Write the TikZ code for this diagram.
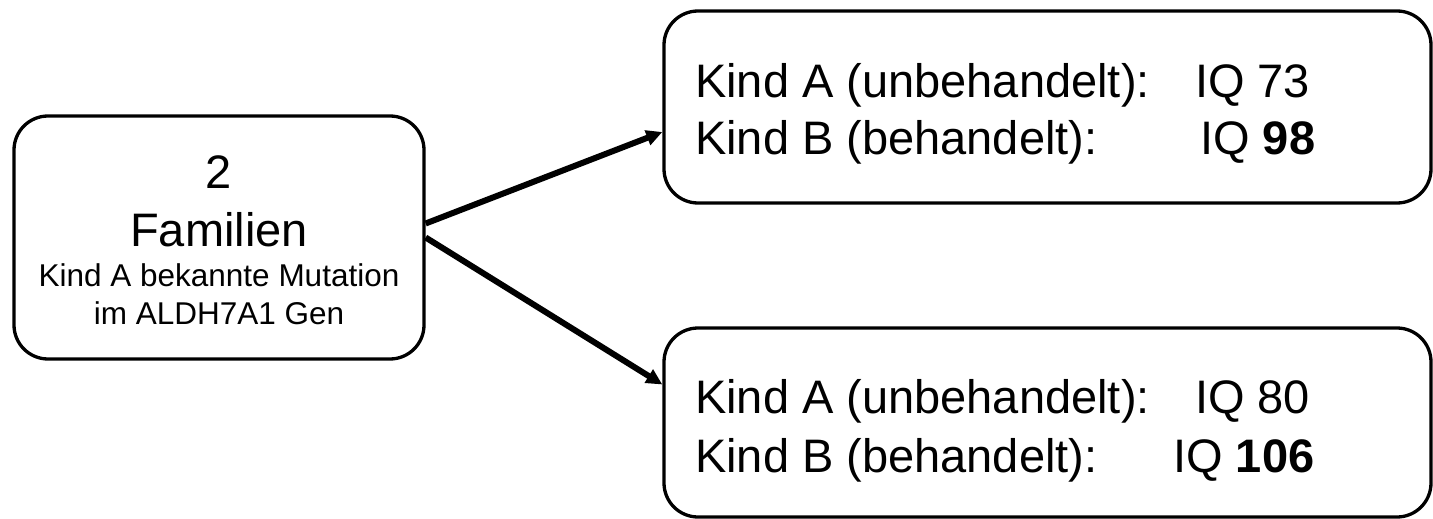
\documentclass[tikz,border=0pt]{standalone}
\usepackage{fontspec}
\setmainfont{Liberation Sans}
\usetikzlibrary{arrows.meta}
\begin{document}
\begin{tikzpicture}[x=1pt,y=-1pt,
  box/.style={draw, line width=3.3pt, rounded corners=34pt, inner sep=0pt},
  bigtext/.style={font=\fontsize{47}{57}\selectfont, inner sep=0pt, anchor=base west},
  link/.style={line width=6pt, -{Triangle[length=16pt,width=15pt]}}]
\useasboundingbox (0,0) rectangle (1433,519);

% family box on the left
\node[box, minimum width=410pt, minimum height=243pt] (fam) at (219,237.5) {};
\node[inner sep=0pt, anchor=north, align=center, font=\fontsize{31.5}{38}\selectfont] (famtxt) at (219,155.5)
  {{\fontsize{47}{57}\selectfont 2}\\[20pt]{\fontsize{47}{57}\selectfont Familien}\\[2pt]Kind A bekannte Mutation\\im ALDH7A1 Gen};

% result boxes on the right
\node[box, minimum width=767pt, minimum height=192pt] (res1) at (1047.5,107) {};
\node[box, minimum width=767pt, minimum height=189pt] (res2) at (1047.5,422.5) {};

\node[bigtext] (a1) at (695,97)  {\makebox[500pt][l]{Kind A (unbehandelt):}IQ 73};
\node[bigtext] (b1) at (695,154) {\makebox[505pt][l]{Kind B (behandelt):}IQ \textbf{98}};
\node[bigtext] (a2) at (695,413) {\makebox[500pt][l]{Kind A (unbehandelt):}IQ 80};
\node[bigtext] (b2) at (695,472) {\makebox[478pt][l]{Kind B (behandelt):}IQ \textbf{106}};

% connectors
\draw[link] ([yshift=14pt]fam.east) -- ([yshift=-25pt]res1.west);
\draw[link] (fam.east) -- ([yshift=38pt]res2.west);
\end{tikzpicture}
\end{document}
